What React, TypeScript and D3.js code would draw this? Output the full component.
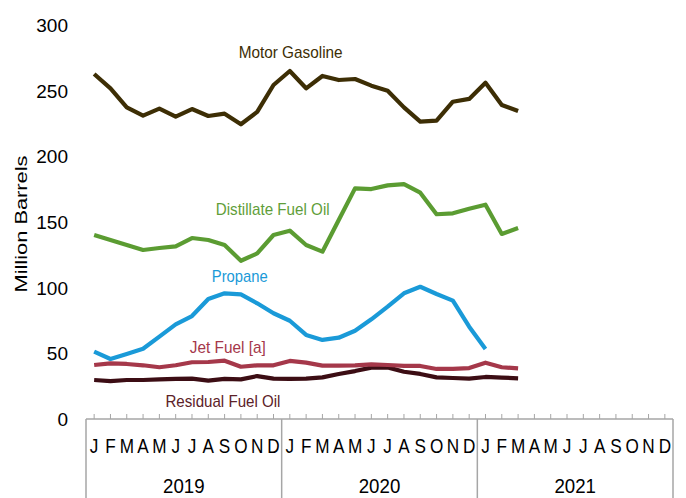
import React from "react";
import * as d3 from "d3";

const years = ["2019", "2020", "2021"];
const monthLetters = ["J", "F", "M", "A", "M", "J", "J", "A", "S", "O", "N", "D"];
const yTicks = [0, 50, 100, 150, 200, 250, 300];

const motorGasoline = [262.7, 251.8, 237.3, 231, 236.3, 230.2, 236, 230.7, 232.5, 224.4, 233.8, 254.3,
  265, 251.8, 261.2, 258.1, 258.9, 253.8, 250, 237.3, 226.4, 227.2, 241.6, 243.7,
  256.1, 239.1, 234.5];
const distillate = [140.1, 136.3, 132.5, 128.7, 130.2, 131.5, 137.8, 136.3, 132.5, 120.5, 126.1, 140.1,
  143.4, 132.5, 127.4, 151.5, 175.6, 175.1, 177.9, 178.9, 172.3, 155.9, 156.6, 160.1,
  163.2, 140.9, 145.4];
const propane = [51.3, 45.7, 49.5, 53.5, 62.7, 72.1, 78.4, 91.4, 95.7, 94.9, 88.1, 80.5,
  74.8, 64, 60.2, 61.9, 67.2, 75.9, 85.5, 95.7, 100.7, 95.2, 90.1, 70.3,
  53.3];
const jetFuel = [41.1, 42.4, 41.9, 40.9, 39.4, 40.9, 43.2, 43.4, 44.4, 39.8, 40.9, 40.9,
  44.2, 42.9, 40.6, 40.6, 40.9, 41.6, 41.1, 40.4, 40.4, 38.1, 38.1, 38.8,
  42.9, 39.4, 38.6];
const residual = [29.7, 28.9, 29.7, 29.7, 30.2, 30.5, 30.7, 29.2, 30.5, 30.2, 32.7, 30.7,
  30.5, 30.7, 31.7, 34.3, 36.5, 39.1, 39.3, 36, 34.3, 31.7, 31.2, 30.7,
  32, 31.5, 31];

const series = [
  { name: "Residual Fuel Oil", values: residual, color: "#3c0d14", labelColor: "#5c2228", lx: 7.9, ly: 9.1, lw: 115 },
  { name: "Jet Fuel [a]", values: jetFuel, color: "#a5384a", labelColor: "#a5384a", lx: 8.2, ly: 50.3, lw: 76 },
  { name: "Propane", values: propane, color: "#1a9ad8", labelColor: "#1a9ad8", lx: 8.93, ly: 104.3, lw: 56 },
  { name: "Distillate Fuel Oil", values: distillate, color: "#5b9c32", labelColor: "#5f9e3a", lx: 10.95, ly: 155.3, lw: 114 },
  { name: "Motor Gasoline", values: motorGasoline, color: "#3d2e05", labelColor: "#3d2e05", lx: 12.05, ly: 275, lw: 104 },
];

const W = 686;
const H = 498;
const left = 86;
const right = 673;
const top = 25;
const bottom = 419;
const nMonths = years.length * 12;
const font = "'Liberation Sans', Arial, sans-serif";

export default function App() {
  const band = d3.scaleBand<number>().domain(d3.range(nMonths)).range([left, right]).padding(0);
  const x = (i: number) => (band(Math.floor(i)) as number) + band.bandwidth() / 2 + (i - Math.floor(i)) * band.bandwidth();
  const y = d3.scaleLinear().domain([0, 300]).range([bottom, top]);
  const line = d3.line<number>().x((_, i) => x(i)).y((v) => y(v));
  const yearScale = d3.scaleBand<string>().domain(years).range([left, right]);
  const gridColor = "#a6a6a6";

  return (
    <svg width={W} height={H} style={{ position: "absolute", left: 0, top: 0, background: "#fff" }} fontFamily={font}>
      {/* y tick labels */}
      {yTicks.map((t) => (
        <text key={t} x={68} y={y(t)} dy="0.36em" textAnchor="end" fontSize={19} fill="#000">
          {t}
        </text>
      ))}
      <text
        transform={`translate(27,224) rotate(-90)`}
        textAnchor="middle"
        fontSize={17}
        textLength={137}
        lengthAdjust="spacingAndGlyphs"
        fill="#000"
      >
        Million Barrels
      </text>
      {/* x axis */}
      <line x1={left} x2={right} y1={bottom} y2={bottom} stroke={gridColor} strokeWidth={1.5} />
      {d3.range(nMonths).map((i) => (
        <line key={i} x1={x(i)} x2={x(i)} y1={bottom} y2={bottom - 5} stroke={gridColor} strokeWidth={1} />
      ))}
      {d3.range(years.length + 1).map((k) => {
        const xx = k < years.length ? (yearScale(years[k]) as number) : right;
        return <line key={k} x1={xx} x2={xx} y1={bottom} y2={H} stroke={gridColor} strokeWidth={1.5} />;
      })}
      {d3.range(nMonths).map((i) => (
        <text key={i} transform={`translate(${x(i)},453) scale(0.88,1)`} textAnchor="middle" fontSize={19.5} fill="#000">
          {monthLetters[i % 12]}
        </text>
      ))}
      {years.map((yr) => (
        <text
          key={yr}
          transform={`translate(${(yearScale(yr) as number) + yearScale.bandwidth() / 2},492.5) scale(0.89,1)`}
          textAnchor="middle"
          fontSize={21}
          fill="#000"
        >
          {yr}
        </text>
      ))}
      {/* lines */}
      {series.map((s) => (
        <path key={s.name} d={line(s.values) as string} fill="none" stroke={s.color} strokeWidth={4.2} strokeLinejoin="round" />
      ))}
      {series.map((s) => (
        <text
          key={s.name + "l"}
          x={x(s.lx)}
          y={y(s.ly)}
          textAnchor="middle"
          fontSize={17}
          textLength={s.lw}
          lengthAdjust="spacingAndGlyphs"
          fill={s.labelColor}
        >
          {s.name}
        </text>
      ))}
    </svg>
  );
}
